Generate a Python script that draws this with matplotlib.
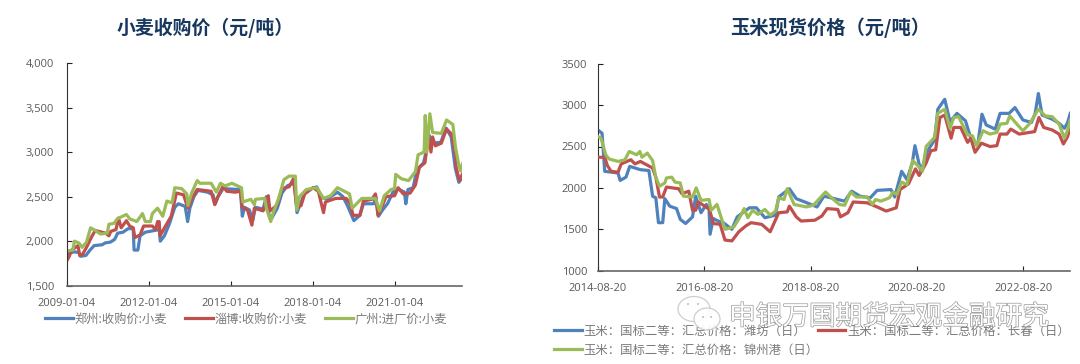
import matplotlib
matplotlib.use('Agg')
import matplotlib.pyplot as plt
import matplotlib.patheffects as pe
from matplotlib.patches import Ellipse

plt.rcParams['font.family'] = ['Noto Sans CJK SC', 'DejaVu Sans']

# Weizen, x in Dezimaljahren
wheat_ticks = [2009, 2012, 2015, 2018, 2021]
wheat_tick_labels = ['2009-01-04', '2012-01-04', '2015-01-04', '2018-01-04', '2021-01-04']
wheat_yticks = [1500, 2000, 2500, 3000, 3500, 4000]

zz_x = [2009.0, 2009.1, 2009.3, 2009.45, 2009.5, 2009.7, 2009.85, 2010.0, 2010.3, 2010.4, 2010.6, 2010.75, 2010.86, 2011.05,
        2011.24, 2011.43, 2011.46, 2011.6, 2011.68, 2011.87, 2012.38, 2012.42, 2012.57, 2012.76, 2012.95, 2013.08, 2013.33,
        2013.42, 2013.5, 2013.65, 2013.8, 2014.15, 2014.35, 2014.43, 2014.53, 2014.72, 2015.28, 2015.35, 2015.42, 2015.5,
        2015.68, 2015.8, 2015.9, 2016.18, 2016.3, 2016.4, 2016.5, 2016.7, 2016.87, 2017.06, 2017.3, 2017.33, 2017.42, 2017.52,
        2017.7, 2017.95, 2018.14, 2018.33, 2018.52, 2018.9, 2019.1, 2019.28, 2019.5, 2019.72, 2019.85, 2020.23, 2020.3, 2020.4,
        2020.55, 2020.73, 2020.93, 2021.1, 2021.35, 2021.4, 2021.48, 2021.67, 2021.8, 2022.05, 2022.14, 2022.24, 2022.37,
        2022.68, 2022.87, 2023.06, 2023.21, 2023.34, 2023.48]
zz_y = [1830, 1870, 1880, 1870, 1830, 1840, 1900, 1950, 1960, 1980, 1990, 2020, 2090, 2100,
        2140, 2140, 1900, 1900, 2060, 2100, 2130, 2000, 2060, 2200, 2380, 2420, 2390,
        2220, 2370, 2500, 2570, 2550, 2520, 2420, 2500, 2590, 2580, 2570, 2280, 2380,
        2350, 2230, 2380, 2360, 2500, 2290, 2260, 2370, 2540, 2620, 2650, 2640, 2320, 2400,
        2540, 2590, 2610, 2490, 2470, 2550, 2500, 2390, 2230, 2290, 2420, 2420, 2500, 2280,
        2350, 2420, 2550, 2590, 2550, 2420, 2580, 2600, 2800, 2880, 3000, 3200, 3100,
        3110, 3270, 3170, 2820, 2660, 2720]

zb_x = [2009.0, 2009.09, 2009.18, 2009.41, 2009.47, 2009.57, 2009.72, 2009.91, 2010.04, 2010.42, 2010.54, 2010.61, 2010.8,
        2010.89, 2010.99, 2011.18, 2011.3, 2011.43, 2011.49, 2011.68, 2011.81, 2012.13, 2012.25, 2012.32, 2012.38, 2012.41,
        2012.63, 2012.82, 2013.01, 2013.27, 2013.43, 2013.58, 2013.77, 2014.28, 2014.41, 2014.53, 2014.72, 2014.85, 2015.16,
        2015.35, 2015.42, 2015.61, 2015.77, 2015.86, 2016.18, 2016.37, 2016.43, 2016.68, 2016.87, 2017.13, 2017.29, 2017.41,
        2017.57, 2017.7, 2018.01, 2018.2, 2018.39, 2018.46, 2018.84, 2019.22, 2019.37, 2019.47, 2019.72, 2019.85, 2020.16,
        2020.29, 2020.38, 2020.55, 2020.67, 2020.99, 2021.12, 2021.31, 2021.56, 2021.75, 2021.9, 2022.1, 2022.23, 2022.32,
        2022.38, 2022.48, 2022.7, 2022.89, 2023.08, 2023.22, 2023.24, 2023.36, 2023.48]
zb_y = [1780, 1830, 1900, 1950, 1840, 1850, 1930, 2050, 2120, 2090, 2060, 2110, 2130,
        2260, 2150, 2230, 2170, 2150, 2040, 2070, 2170, 2170, 2130, 2220, 2220, 2060,
        2180, 2280, 2540, 2520, 2370, 2480, 2580, 2560, 2410, 2500, 2620, 2560, 2550,
        2560, 2380, 2350, 2180, 2370, 2340, 2510, 2340, 2400, 2590, 2610, 2700, 2380,
        2400, 2530, 2600, 2560, 2320, 2440, 2480, 2480, 2420, 2290, 2290, 2450, 2470,
        2530, 2290, 2400, 2500, 2510, 2600, 2530, 2540, 2630, 2830, 2880, 3190, 3000,
        3170, 3070, 3100, 3260, 3200, 2960, 2830, 2680, 2760]

gz_x = [2009.0, 2009.22, 2009.28, 2009.44, 2009.56, 2009.72, 2009.87, 2010.04, 2010.23, 2010.48, 2010.54, 2010.73, 2010.84,
        2011.18, 2011.3, 2011.56, 2011.77, 2011.87, 2012.06, 2012.13, 2012.32, 2012.51, 2012.66, 2012.85, 2012.95, 2013.2,
        2013.39, 2013.43, 2013.58, 2013.77, 2013.87, 2014.28, 2014.47, 2014.62, 2014.79, 2015.04, 2015.39, 2015.44, 2015.73,
        2015.86, 2015.9, 2016.24, 2016.3, 2016.46, 2016.56, 2016.75, 2016.94, 2017.13, 2017.36, 2017.41, 2017.51, 2017.76,
        2018.14, 2018.39, 2018.65, 2018.9, 2019.34, 2019.44, 2019.79, 2020.29, 2020.44, 2020.61, 2020.86, 2020.99, 2021.03,
        2021.24, 2021.5, 2021.75, 2021.85, 2022.07, 2022.11, 2022.17, 2022.28, 2022.38, 2022.7, 2022.89, 2023.12, 2023.22,
        2023.33, 2023.4, 2023.48]
gz_y = [1890, 1900, 2000, 1980, 1930, 1990, 2150, 2120, 2080, 2090, 2190, 2200, 2250,
        2300, 2250, 2220, 2310, 2220, 2220, 2310, 2370, 2280, 2450, 2430, 2600, 2590,
        2530, 2400, 2550, 2680, 2650, 2650, 2550, 2650, 2620, 2650, 2600, 2440, 2470,
        2410, 2470, 2480, 2370, 2220, 2330, 2480, 2690, 2730, 2730, 2350, 2500, 2580,
        2600, 2480, 2510, 2600, 2530, 2370, 2480, 2480, 2340, 2510, 2580, 2590, 2750,
        2700, 2680, 2780, 2970, 3000, 3410, 3000, 3430, 3220, 3210, 3360, 3310, 3050,
        2870, 2790, 2870]

# Mais
corn_ticks = [2014.63, 2016.63, 2018.63, 2020.63, 2022.63]
corn_tick_labels = ['2014-08-20', '2016-08-20', '2018-08-20', '2020-08-20', '2022-08-20']
corn_yticks = [1000, 1500, 2000, 2500, 3000, 3500]

wf_x = [2014.63, 2014.71, 2014.76, 2015.01, 2015.05, 2015.16, 2015.23, 2015.43, 2015.59, 2015.66, 2015.72, 2015.77, 2015.85,
        2015.89, 2015.98, 2016.11, 2016.18, 2016.28, 2016.41, 2016.47, 2016.57, 2016.67, 2016.72, 2016.74, 2016.8, 2016.89,
        2016.99, 2017.15, 2017.25, 2017.48, 2017.61, 2017.77, 2017.97, 2018.03, 2018.23, 2018.36, 2018.52, 2018.75, 2018.88,
        2019.14, 2019.27, 2019.4, 2019.56, 2019.75, 2019.88, 2020.14, 2020.21, 2020.34, 2020.44, 2020.54, 2020.59, 2020.7,
        2020.83, 2020.96, 2021.02, 2021.15, 2021.25, 2021.38, 2021.54, 2021.64, 2021.77, 2021.85, 2021.93, 2022.1, 2022.19,
        2022.36, 2022.47, 2022.62, 2022.78, 2022.85, 2022.91, 2022.98, 2023.17, 2023.3, 2023.4, 2023.46, 2023.51]
wf_y = [2700, 2660, 2200, 2180, 2090, 2130, 2260, 2220, 2210, 1900, 1880, 1580, 1580,
        1870, 1780, 1750, 1620, 1570, 1650, 1900, 1700, 1800, 1750, 1440, 1630, 1600,
        1580, 1500, 1650, 1760, 1760, 1640, 1670, 1890, 1990, 1870, 1830, 1770, 1900,
        1860, 1840, 1960, 1900, 1880, 1970, 1980, 1890, 2200, 2100, 2300, 2510, 2200,
        2450, 2580, 2950, 3070, 2800, 2900, 2810, 2600, 2520, 2890, 2760, 2710, 2900,
        2900, 2970, 2820, 2790, 2900, 3140, 2880, 2830, 2780, 2720, 2790, 2900]

cc_x = [2014.63, 2014.76, 2014.81, 2014.88, 2015.01, 2015.07, 2015.25, 2015.33, 2015.43, 2015.66, 2015.72, 2015.79, 2015.85,
        2015.92, 2016.15, 2016.21, 2016.34, 2016.41, 2016.47, 2016.52, 2016.73, 2016.8, 2016.93, 2017.02, 2017.15, 2017.28,
        2017.41, 2017.51, 2017.71, 2017.87, 2018.03, 2018.19, 2018.23, 2018.36, 2018.45, 2018.71, 2018.84, 2018.94, 2019.14,
        2019.19, 2019.33, 2019.43, 2019.69, 2019.88, 2020.05, 2020.24, 2020.31, 2020.47, 2020.6, 2020.67, 2020.8, 2020.89,
        2020.98, 2021.06, 2021.15, 2021.27, 2021.32, 2021.45, 2021.58, 2021.64, 2021.72, 2021.84, 2022.0, 2022.13, 2022.19,
        2022.32, 2022.39, 2022.55, 2022.84, 2022.92, 2023.01, 2023.17, 2023.3, 2023.38, 2023.46, 2023.51]
cc_y = [2370, 2370, 2270, 2200, 2190, 2290, 2340, 2290, 2320, 2240, 2130, 1890, 1890,
        2010, 1990, 1930, 1960, 1730, 1730, 1830, 1740, 1570, 1560, 1370, 1360, 1470,
        1540, 1580, 1560, 1470, 1700, 1710, 1780, 1650, 1600, 1610, 1660, 1750, 1740,
        1650, 1700, 1830, 1820, 1770, 1720, 1760, 1980, 2050, 2230, 2150, 2300, 2450,
        2460, 2850, 2880, 2600, 2730, 2730, 2550, 2600, 2430, 2540, 2500, 2510, 2650,
        2650, 2710, 2650, 2680, 2850, 2730, 2700, 2650, 2530, 2620, 2740]

jz_x = [2014.63, 2014.69, 2014.78, 2014.84, 2015.01, 2015.14, 2015.22, 2015.36, 2015.42, 2015.46, 2015.56, 2015.66, 2015.72,
        2015.79, 2015.89, 2015.92, 2016.02, 2016.08, 2016.18, 2016.24, 2016.41, 2016.48, 2016.57, 2016.72, 2016.76, 2016.87,
        2016.96, 2017.02, 2017.19, 2017.32, 2017.38, 2017.45, 2017.54, 2017.64, 2017.77, 2017.87, 2017.97, 2018.03, 2018.13,
        2018.19, 2018.32, 2018.55, 2018.68, 2018.91, 2019.04, 2019.17, 2019.27, 2019.38, 2019.49, 2019.69, 2019.79, 2019.85,
        2019.95, 2020.11, 2020.18, 2020.25, 2020.34, 2020.44, 2020.55, 2020.67, 2020.73, 2020.8, 2020.96, 2021.02, 2021.15,
        2021.25, 2021.32, 2021.41, 2021.58, 2021.67, 2021.75, 2021.87, 2022.0, 2022.13, 2022.19, 2022.32, 2022.37, 2022.52,
        2022.62, 2022.75, 2022.91, 2023.04, 2023.17, 2023.3, 2023.4, 2023.46, 2023.51]
jz_y = [2620, 2600, 2400, 2350, 2320, 2340, 2440, 2400, 2440, 2370, 2420, 2330, 2130,
        2020, 2060, 2120, 2130, 2070, 2060, 1900, 1890, 2000, 1850, 1860, 1730, 1800,
        1620, 1500, 1530, 1670, 1750, 1640, 1730, 1680, 1740, 1670, 1720, 1880, 1860,
        1990, 1800, 1770, 1790, 1950, 1870, 1800, 1790, 1950, 1890, 1890, 1800, 1860,
        1840, 1880, 1950, 1920, 2070, 2040, 2330, 2250, 2200, 2500, 2610, 2900, 2950,
        2720, 2850, 2860, 2640, 2630, 2510, 2690, 2650, 2670, 2770, 2780, 2870, 2760,
        2690, 2780, 2950, 2870, 2860, 2770, 2600, 2700, 2820]

BLUE = '#4F81BD'
RED = '#C0504D'
GREEN = '#9BBB59'
GREY = '#595959'
W, H = 1080, 364


def make_axes(left, top, right, bottom):
    return fig.add_axes([left / W, 1 - bottom / H, (right - left) / W, (bottom - top) / H])


def style_axes(ax, xlim, ylim, xticks, xlabels, yticks, yfmt, ypad):
    ax.set_xlim(xlim)
    ax.set_ylim(ylim)
    ax.set_xticks(xticks)
    ax.set_xticklabels(xlabels, family='Open Sans')
    ax.set_yticks(yticks)
    ax.set_yticklabels([yfmt.format(v) for v in yticks], family='Open Sans')
    ax.tick_params(axis='both', direction='in', length=3.5, width=0.8, labelsize=8, labelcolor=GREY, color='#222222')
    ax.tick_params(axis='x', pad=8.5)
    ax.tick_params(axis='y', pad=ypad)
    ax.spines['top'].set_visible(False)
    ax.spines['right'].set_visible(False)
    ax.spines['left'].set_color('#333333')
    ax.spines['left'].set_linewidth(0.8)
    ax.spines['bottom'].set_color('#666666')
    ax.spines['bottom'].set_linewidth(1.2)


fig = plt.figure(figsize=(10.8, 3.64), dpi=100)

# linkes Diagramm
ax1 = make_axes(66.8, 63, 462.4, 285.7)
ax1.plot(zz_x, zz_y, color=BLUE, lw=2.3, label='郑州:收购价:小麦')
ax1.plot(zb_x, zb_y, color=RED, lw=2.3, label='淄博:收购价:小麦')
ax1.plot(gz_x, gz_y, color=GREEN, lw=2.3, label='广州:进厂价:小麦')
style_axes(ax1, (2009, 2023.47), (1500, 4000), wheat_ticks, wheat_tick_labels, wheat_yticks, '{:,}', 9)
ax1.legend(loc='upper left', bbox_to_anchor=(45 / W, 1 - 312.5 / H), bbox_transform=fig.transFigure, ncol=3, frameon=False,
           fontsize=8.8, labelcolor='#7a7a7a', handlelength=2.25, handletextpad=0.15, columnspacing=1.5,
           borderpad=0, borderaxespad=0)

# rechtes Diagramm
ax2 = make_axes(597.8, 63.7, 1070.3, 270.7)
ax2.plot(wf_x, wf_y, color=BLUE, lw=2.3, label='玉米：国标二等：汇总价格：潍坊（日）')
ax2.plot(jz_x, jz_y, color=GREEN, lw=2.3, label='玉米：国标二等：汇总价格：锦州港（日）', zorder=4)
ax2.plot(cc_x, cc_y, color=RED, lw=2.3, label='玉米：国标二等：汇总价格：长春（日）', zorder=3)
style_axes(ax2, (2014.63, 2023.51), (1000, 3500), corn_ticks, corn_tick_labels, corn_yticks, '{}', 7.5)
ax2.legend(loc='upper left', bbox_to_anchor=(554 / W, 1 - 324.5 / H), bbox_transform=fig.transFigure, ncol=2, frameon=False,
           fontsize=8.9, labelcolor='#7a7a7a', handlelength=2.25, handletextpad=0.15, columnspacing=-0.1,
           labelspacing=0.5, borderpad=0, borderaxespad=0)

# Titel
fig.text(205 / W, 1 - 28 / H, '小麦收购价（元/吨）', fontsize=13.6, fontweight='bold', color='#17375E', ha='center', va='center')
fig.text(830 / W, 1 - 28 / H, '玉米现货价格（元/吨）', fontsize=13.9, fontweight='bold', color='#17375E', ha='center', va='center')

# Wasserzeichen
for cx, cy, ew, eh in [(694, 309, 32, 25), (707, 319, 26, 22)]:
    icon = Ellipse((cx / W, 1 - cy / H), ew / W, eh / H, transform=fig.transFigure,
                   facecolor='white', edgecolor='#c8c8c8', lw=0.9, alpha=0.9, zorder=10)
    fig.add_artist(icon)
for cx, cy in [(688, 304), (698, 304), (703, 317), (711, 317)]:
    eye = Ellipse((cx / W, 1 - cy / H), 2 / W, 2 / H, transform=fig.transFigure, facecolor='#bbbbbb', edgecolor='none', zorder=10)
    fig.add_artist(eye)
fig.text(729 / W, 1 - 317 / H, '申银万国期货宏观金融研究', fontsize=19.2, color='white', va='center', zorder=11,
         path_effects=[pe.withStroke(linewidth=1.0, foreground='#9a9a9a')])

fig.savefig('out.png', dpi=100)
